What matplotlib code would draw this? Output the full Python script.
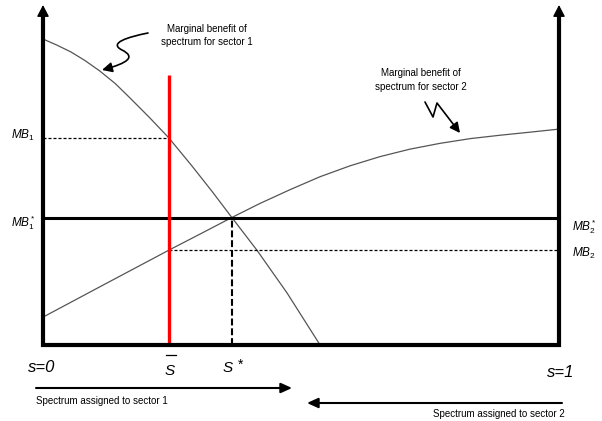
import matplotlib
matplotlib.use('Agg')
import matplotlib.pyplot as plt
from matplotlib.path import Path
from matplotlib.patches import FancyArrowPatch

plt.rcParams['font.family'] = ['Liberation Sans', 'DejaVu Sans']
plt.rcParams['mathtext.fontset'] = 'custom'
plt.rcParams['mathtext.rm'] = 'Liberation Sans'
plt.rcParams['mathtext.it'] = 'Liberation Sans:italic'

# ---- data (s = share of spectrum to sector 1, MB in arbitrary units) ----
s1 = [0.000, 0.027, 0.054, 0.081, 0.110, 0.140, 0.169, 0.207, 0.244,
      0.289, 0.328, 0.366, 0.415, 0.473, 0.537]
mb1 = [0.900, 0.882, 0.862, 0.837, 0.806, 0.769, 0.726, 0.668, 0.609,
       0.526, 0.451, 0.375, 0.278, 0.153, 0.000]
s2 = [0.000, 0.110, 0.244, 0.304, 0.366, 0.420, 0.479, 0.537, 0.595,
      0.653, 0.711, 0.769, 0.828, 0.886, 0.944, 1.000]
mb2 = [0.082, 0.171, 0.279, 0.326, 0.375, 0.416, 0.457, 0.495, 0.527,
       0.554, 0.576, 0.593, 0.607, 0.617, 0.626, 0.635]
s_bar = 0.244
s_star = 0.366
mb_star = 0.375
mb1_at_sbar = 0.609
mb2_at_sbar = 0.279
red_top = 0.794
axis_top = 1.0

# ---- layout ----
fig = plt.figure(figsize=(6.02, 4.21), dpi=100)
ax = fig.add_axes([0, 0, 1, 1])
ax.set_xlim(-43 / 516, 559 / 516)
ax.set_ylim(-76 / 340, 345 / 340)
ax.axis('off')


def D(x, y):
    return ((x - 43) / 516, (345 - y) / 340)


# curves
ax.plot(s1, mb1, color='#555555', lw=0.9, zorder=2)
ax.plot(s2, mb2, color='#555555', lw=0.9, zorder=2)

# dashed guides
ax.plot([0, s_bar], [mb1_at_sbar, mb1_at_sbar], color='k', lw=0.9, dashes=(2.4, 1.6), zorder=3)
ax.plot([s_bar, 1], [mb2_at_sbar, mb2_at_sbar], color='k', lw=0.9, dashes=(2.4, 1.6), zorder=3)
ax.plot([s_star, s_star], [0, mb_star], color='k', lw=1.5, dashes=(3.3, 1.4), zorder=3)

# MB* line
ax.plot([0, 1], [mb_star, mb_star], color='k', lw=2.2, zorder=4)

# red allocation line
ax.plot([s_bar, s_bar], [0, red_top], color='#ff0000', lw=2.4, solid_capstyle='butt', zorder=5)

# frame
ax.plot([0, 0, 1, 1], [axis_top - 0.03, 0, 0, axis_top - 0.03], color='k', lw=3,
        solid_joinstyle='miter', solid_capstyle='butt', zorder=6)
for xx in (0, 1):
    ax.add_patch(FancyArrowPatch((xx, axis_top - 0.04), (xx, axis_top),
                                 arrowstyle='-|>,head_length=0.5,head_width=0.26',
                                 mutation_scale=14, lw=1, color='k',
                                 shrinkA=0, shrinkB=0, zorder=6))

# labels
ax.text(*D(35, 138.5), r'$MB_1$', ha='right', va='baseline', fontsize=8.5)
ax.text(*D(36, 227), r'$MB^*_1$', ha='right', va='baseline', fontsize=8.5)
ax.text(*D(572, 230), r'$MB^*_2$', ha='left', va='baseline', fontsize=8.5)
ax.text(*D(572, 257), r'$MB_2$', ha='left', va='baseline', fontsize=8.5)

ax.text(*D(42, 372), 's=0', style='italic', fontsize=12, ha='center', va='baseline')
ax.text(*D(561, 377), 's=1', style='italic', fontsize=12, ha='center', va='baseline')

ax.text(*D(170, 375), 'S', style='italic', fontsize=11, ha='center', va='baseline')
bx0, by = D(166, 355)
bx1, _ = D(176, 355)
ax.plot([bx0, bx1], [by, by], color='k', lw=0.9)
ax.text(*D(228, 372), 'S', style='italic', fontsize=11, ha='center', va='baseline')
ax.text(*D(241, 369), '*', fontsize=10, ha='center', va='baseline')

# bottom arrows
ax.add_patch(FancyArrowPatch(D(36, 388), D(292, 388),
                             arrowstyle='-|>,head_length=0.55,head_width=0.25',
                             mutation_scale=12, lw=1.5, color='k', shrinkA=0, shrinkB=0))
ax.text(*D(36, 404), 'Spectrum assigned to sector 1', fontsize=7, ha='left', va='baseline')
ax.add_patch(FancyArrowPatch(D(562, 403), D(307, 403),
                             arrowstyle='-|>,head_length=0.55,head_width=0.25',
                             mutation_scale=12, lw=1.5, color='k', shrinkA=0, shrinkB=0))
ax.text(*D(565, 417), 'Spectrum assigned to sector 2', fontsize=7, ha='right', va='baseline')

# annotations
ax.text(*D(207, 32), 'Marginal benefit of', fontsize=7, ha='center', va='baseline')
ax.text(*D(207, 45), 'spectrum for sector 1', fontsize=7, ha='center', va='baseline')
ax.text(*D(421, 76), 'Marginal benefit of', fontsize=7, ha='center', va='baseline')
ax.text(*D(421, 90), 'spectrum for sector 2', fontsize=7, ha='center', va='baseline')

v1 = [D(148, 33), D(128, 37), D(108, 43), D(122, 50), D(136, 57), D(128, 63), D(102, 70)]
c1 = [Path.MOVETO] + [Path.CURVE4] * 6
ax.add_patch(FancyArrowPatch(path=Path(v1, c1),
                             arrowstyle='-|>,head_length=0.5,head_width=0.25',
                             mutation_scale=12, lw=1.2, color='k', transform=ax.transData))
v2 = [D(425, 102), D(433, 117), D(437, 103), D(460, 133)]
c2 = [Path.MOVETO] + [Path.LINETO] * 3
ax.add_patch(FancyArrowPatch(path=Path(v2, c2),
                             arrowstyle='-|>,head_length=0.5,head_width=0.25',
                             mutation_scale=12, lw=1.2, color='k', transform=ax.transData,
                             joinstyle='round'))

fig.savefig('out.png', dpi=100)
